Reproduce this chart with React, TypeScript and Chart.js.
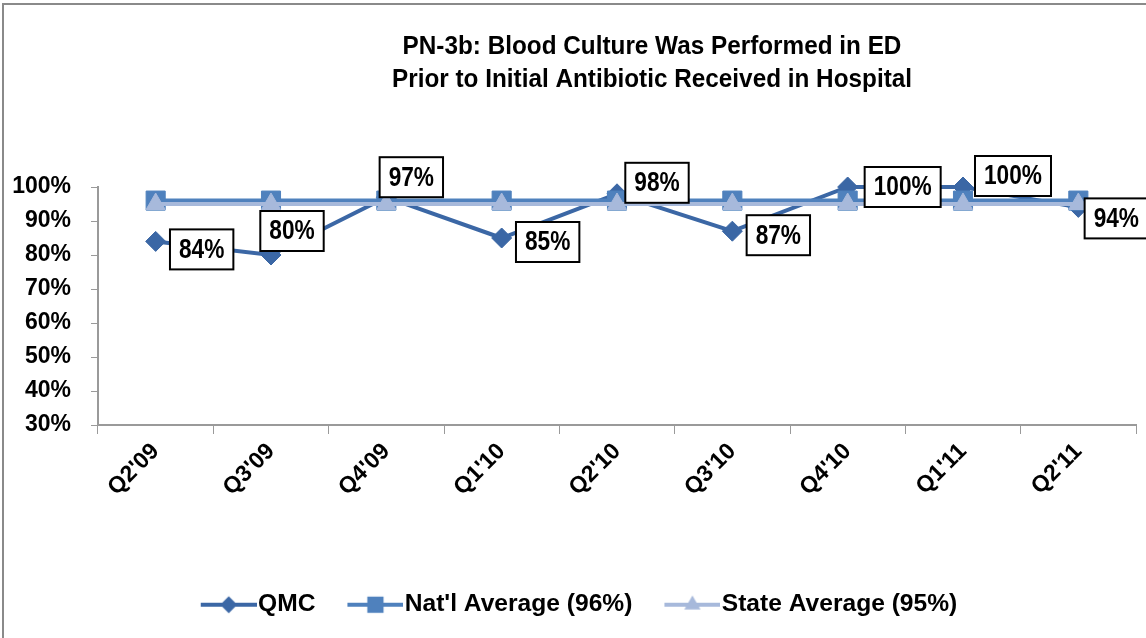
import { useEffect, useRef } from 'react';
import { Chart, registerables } from 'chart.js';

Chart.register(...registerables);

const categories = ["Q2'09", "Q3'09", "Q4'09", "Q1'10", "Q2'10", "Q3'10", "Q4'10", "Q1'11", "Q2'11"];
const qmcValues = [84, 80, 97, 85, 98, 87, 100, 100, 94];
const natlValues = [96, 96, 96, 96, 96, 96, 96, 96, 96];
const stateValues = [95, 95, 95, 95, 95, 95, 95, 95, 95];
const seriesNames = ['QMC', "Nat'l Average (96%)", 'State Average (95%)'];
const titleLines = ['PN-3b: Blood Culture Was Performed in ED', 'Prior to Initial Antibiotic Received in Hospital'];
const yMin = 30;
const yMax = 100;
const yStep = 10;

// label box offsets relative to each QMC point (style only)
const labelOffsets: [number, number][] = [
  [46, 8], [21, -24], [25, -20], [46, 4], [40, -11], [46, 4], [55, 0], [50, -11], [38, 11],
];

const FONT = "'Liberation Sans', Arial, sans-serif";
const COLORS = { qmc: '#3B67A5', natl: '#4F81BD', state: '#A7B9DB' };
const AXIS = '#9a9a9a';

function drawMarker(ctx: CanvasRenderingContext2D, style: string, x: number, y: number, r: number) {
  ctx.beginPath();
  if (style === 'rectRot') {
    ctx.moveTo(x - r, y); ctx.lineTo(x, y - r); ctx.lineTo(x + r, y); ctx.lineTo(x, y + r);
  } else if (style === 'rect') {
    const s = Math.SQRT1_2 * r;
    ctx.rect(x - s, y - s, 2 * s, 2 * s);
  } else {
    const a = (2 * Math.PI) / 3;
    ctx.moveTo(x, y - r);
    ctx.lineTo(x + Math.sin(a) * r, y - Math.cos(a) * r);
    ctx.lineTo(x - Math.sin(a) * r, y - Math.cos(a) * r);
  }
  ctx.closePath();
  ctx.fill();
}

function legendIcon(color: string, style: string, r: number, totalW: number) {
  const c = document.createElement('canvas');
  c.width = totalW;
  c.height = 28;
  const ctx = c.getContext('2d')!;
  const x0 = totalW - 56;
  ctx.strokeStyle = color;
  ctx.lineWidth = 4;
  ctx.beginPath();
  ctx.moveTo(x0, 14);
  ctx.lineTo(totalW, 14);
  ctx.stroke();
  ctx.fillStyle = color;
  drawMarker(ctx, style, x0 + 28, 14, r);
  return c;
}

export default function App() {
  const ref = useRef<HTMLCanvasElement>(null);

  useEffect(() => {
    const canvas = ref.current!;
    const styles = ['rectRot', 'rect', 'triangle'];
    const radii = [10, 13.5, 11];
    const colors = [COLORS.qmc, COLORS.natl, COLORS.state];
    const boxW = 67;
    const icons = styles.map((s, i) => legendIcon(colors[i], s, radii[i] * 0.85, boxW + 22));

    const frame = {
      id: 'frame',
      beforeDraw(chart: any) {
        const ctx = chart.ctx;
        ctx.save();
        ctx.fillStyle = '#fff';
        ctx.fillRect(0, 0, chart.width, chart.height);
        ctx.strokeStyle = '#8a8a8a';
        ctx.lineWidth = 2;
        ctx.beginPath();
        ctx.moveTo(3, chart.height + 2);
        ctx.lineTo(3, 4);
        ctx.lineTo(chart.width + 2, 4);
        ctx.stroke();
        ctx.restore();
      },
    };

    const title = {
      id: 'customTitle',
      afterDraw(chart: any) {
        const ctx = chart.ctx;
        ctx.save();
        ctx.fillStyle = '#000';
        ctx.font = `bold 26px ${FONT}`;
        ctx.textAlign = 'center';
        ctx.textBaseline = 'middle';
        titleLines.forEach((t, i) => {
          ctx.save();
          ctx.translate(652, 47 + i * 33);
          ctx.scale(0.935, 1);
          ctx.fillText(t, 0, 0);
          ctx.restore();
        });
        ctx.restore();
      },
    };

    const dataLabels = {
      id: 'dataLabels',
      afterDatasetsDraw(chart: any) {
        const ctx = chart.ctx;
        const meta = chart.getDatasetMeta(0);
        const sx = 0.84;
        ctx.save();
        ctx.font = `bold 27px ${FONT}`;
        ctx.textAlign = 'center';
        ctx.textBaseline = 'middle';
        meta.data.forEach((pt: any, i: number) => {
          const text = `${qmcValues[i]}%`;
          const [dx, dy] = labelOffsets[i];
          const cx = pt.x + dx;
          const cy = pt.y + dy;
          const w = ctx.measureText(text).width * sx + 18;
          const h = 40;
          ctx.fillStyle = '#fff';
          ctx.fillRect(cx - w / 2, cy - h / 2, w, h);
          ctx.strokeStyle = '#000';
          ctx.lineWidth = 2;
          ctx.strokeRect(cx - w / 2, cy - h / 2, w, h);
          ctx.fillStyle = '#000';
          ctx.save();
          ctx.translate(cx, cy + 1);
          ctx.scale(sx, 1);
          ctx.fillText(text, 0, 0);
          ctx.restore();
        });
        ctx.restore();
      },
    };

    const chart = new Chart(canvas, {
      type: 'line',
      data: {
        labels: categories,
        datasets: [
          {
            label: seriesNames[0], data: qmcValues, borderColor: COLORS.qmc, backgroundColor: COLORS.qmc,
            borderWidth: 4, pointStyle: 'rectRot', pointRadius: radii[0], pointBorderWidth: 1,
            pointBackgroundColor: COLORS.qmc, pointBorderColor: COLORS.qmc, order: 3, clip: false as any, tension: 0,
          },
          {
            label: seriesNames[1], data: natlValues, borderColor: COLORS.natl, backgroundColor: COLORS.natl,
            borderWidth: 4, pointStyle: 'rect', pointRadius: radii[1], pointBorderWidth: 1,
            pointBackgroundColor: COLORS.natl, pointBorderColor: COLORS.natl, order: 2, clip: false as any, tension: 0,
          },
          {
            label: seriesNames[2], data: stateValues, borderColor: COLORS.state, backgroundColor: COLORS.state,
            borderWidth: 4, pointStyle: 'triangle', pointRadius: radii[2], pointBorderWidth: 1,
            pointBackgroundColor: COLORS.state, pointBorderColor: COLORS.state, order: 1, clip: false as any, tension: 0,
          },
        ],
      },
      options: {
        responsive: false,
        animation: false,
        events: [],
        layout: { autoPadding: false, padding: { top: 187, left: 0, right: 10, bottom: 11 } },
        plugins: {
          title: { display: false },
          tooltip: { enabled: false },
          legend: {
            display: true,
            position: 'bottom',
            labels: {
              usePointStyle: true,
              pointStyleWidth: boxW,
              boxWidth: boxW,
              padding: 10,
              color: '#000',
              font: { family: FONT, size: 24.6, weight: 'bold' },
              sort: (a: any, b: any) => a.datasetIndex - b.datasetIndex,
              generateLabels: (ch: any) =>
                ch.data.datasets.map((ds: any, i: number) => ({
                  text: ds.label,
                  fillStyle: colors[i],
                  strokeStyle: colors[i],
                  lineWidth: 0,
                  pointStyle: icons[i],
                  hidden: false,
                  datasetIndex: i,
                  fontColor: '#000',
                })),
            },
          },
        },
        scales: {
          x: {
            type: 'category',
            offset: true,
            grid: { offset: true, drawOnChartArea: false, drawTicks: true, tickLength: 9, color: AXIS, lineWidth: 1 },
            border: { color: AXIS, width: 2 },
            ticks: {
              color: '#000',
              font: { family: FONT, size: 23, weight: 'bold' },
              maxRotation: 45,
              minRotation: 45,
              padding: 4,
              autoSkip: false,
            },
            afterFit: (s: any) => {
              const legendH = s.chart.legend ? s.chart.legend.height : 0;
              s.height = s.chart.height - 425 - legendH - 11;
              s.paddingRight = 0;
            },
          },
          y: {
            min: yMin,
            max: yMax,
            grid: { drawOnChartArea: false, drawTicks: true, tickLength: 7, color: AXIS, lineWidth: 1 },
            border: { color: AXIS, width: 2 },
            ticks: {
              stepSize: yStep,
              autoSkip: false,
              color: '#000',
              padding: 20,
              font: { family: FONT, size: 23, weight: 'bold' },
              callback: (v: any) => `${v}%`,
            },
            afterFit: (s: any) => {
              s.width = 98;
            },
          },
        },
      },
      plugins: [frame, title, dataLabels],
    } as any);

    return () => chart.destroy();
  }, []);

  return (
    <div style={{ position: 'absolute', left: 0, top: 0, width: 1146, height: 638, background: '#fff' }}>
      <canvas ref={ref} width={1146} height={638} style={{ display: 'block' }} />
    </div>
  );
}
